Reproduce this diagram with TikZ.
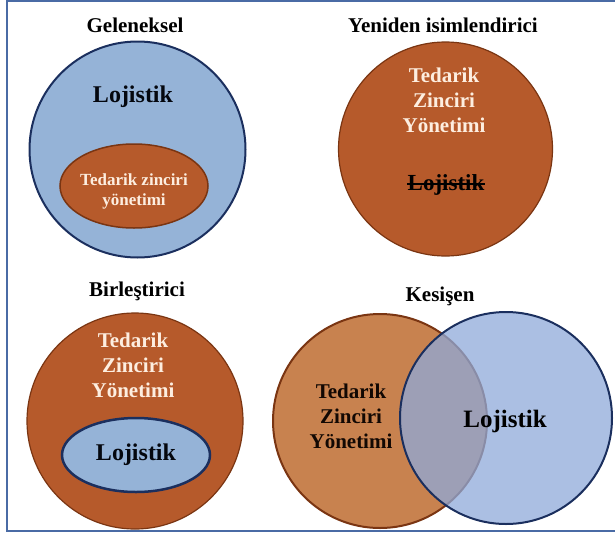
\documentclass[tikz,border=0pt]{standalone}
\usepackage{fontspec}
\setmainfont{Liberation Serif}
\usetikzlibrary{shapes}
\definecolor{logblue}{HTML}{95B3D7}
\definecolor{logpale}{HTML}{8FAAD9}
\definecolor{navyline}{HTML}{1B2F5E}
\definecolor{scmbrown}{HTML}{B65A2B}
\definecolor{scmlight}{HTML}{C8824F}
\definecolor{brownline}{HTML}{7A3512}
\definecolor{framecol}{HTML}{4A6BA5}
\definecolor{creamtxt}{HTML}{FDEEE0}
\tikzstyle{title} = [font=\bfseries\fontsize{21}{25}\selectfont,text=black]

\begin{document}
\begin{tikzpicture}
		[
		x=1pt,y=-1pt,
		bigc/.style={
		circle,
		inner sep=0pt,
		minimum size=214pt},
		inner/.style={
		ellipse,
		inner sep=0pt,
		minimum width=148pt},
		label3/.style={
		align=center,
		font=\bfseries\fontsize{21}{25}\selectfont}
		]
		\useasboundingbox (0,0) rectangle (615,533);
		\draw[framecol,line width=1.5pt] (615,1) -- (7,1) -- (7,531) -- (615,531);
		% Geleneksel
		\node[title](t_gel) at (135,25) {Geleneksel};
		\node[bigc,minimum size=216pt,fill=logblue,draw=navyline,line width=2pt](gel) at (137.5,149.5) {};
		\node[font=\bfseries\fontsize{24}{28}\selectfont,text=black!85!navyline](gel_log) at (133,97) {Lojistik};
		\node[inner,minimum height=84pt,fill=scmbrown,draw=brownline,line width=1.5pt](gel_scm) at (134,186) {};
		\node[align=center,font=\bfseries\fontsize{17}{20}\selectfont,text=creamtxt](gel_scm_txt) at (134,191) {Tedarik zinciri\\yönetimi};
		% Yeniden isimlendirici
		\node[title](t_yen) at (443,25) {Yeniden isimlendirici};
		\node[bigc,fill=scmbrown,draw=brownline,line width=1.2pt](yen) at (445.5,149) {};
		\node[label3,text=creamtxt](yen_scm) at (444,100) {Tedarik\\Zinciri\\Yönetimi};
		\node[font=\bfseries\fontsize{23}{27}\selectfont,text=black,inner sep=0pt](yen_log) at (446,185) {Lojistik};
		\draw[line width=1.6pt] ([yshift=6.5pt]yen_log.base west) -- ([yshift=6.5pt]yen_log.base east);
		% Birlestirici
		\node[title](t_bir) at (137,291) {Birleştirici};
		\node[bigc,minimum size=216pt,fill=scmbrown,draw=brownline,line width=1.2pt](bir) at (135,421) {};
		\node[label3,text=creamtxt](bir_scm) at (133,365) {Tedarik\\Zinciri\\Yönetimi};
		\node[inner,minimum height=74pt,fill=logblue,draw=navyline,line width=2.5pt](bir_log) at (136,455) {};
		\node[font=\bfseries\fontsize{24}{28}\selectfont,text=black!85!navyline](bir_log_txt) at (136,455) {Lojistik};
		% Kesisen
		\node[title](t_kes) at (440,296) {Kesişen};
		\node[bigc,fill=scmlight,draw=brownline,line width=2pt](kes_scm) at (380,421) {};
		\node[bigc,minimum size=212pt,fill=logpale,fill opacity=0.75,draw=navyline,draw opacity=1,line width=2pt](kes_log) at (506,418) {};
		\node[label3,text=black!85!brownline](kes_scm_txt) at (351,416) {Tedarik\\Zinciri\\Yönetimi};
		\node[font=\bfseries\fontsize{25}{29}\selectfont,text=black](kes_log_txt) at (505,421) {Lojistik};
		\end{tikzpicture}
\end{document}
